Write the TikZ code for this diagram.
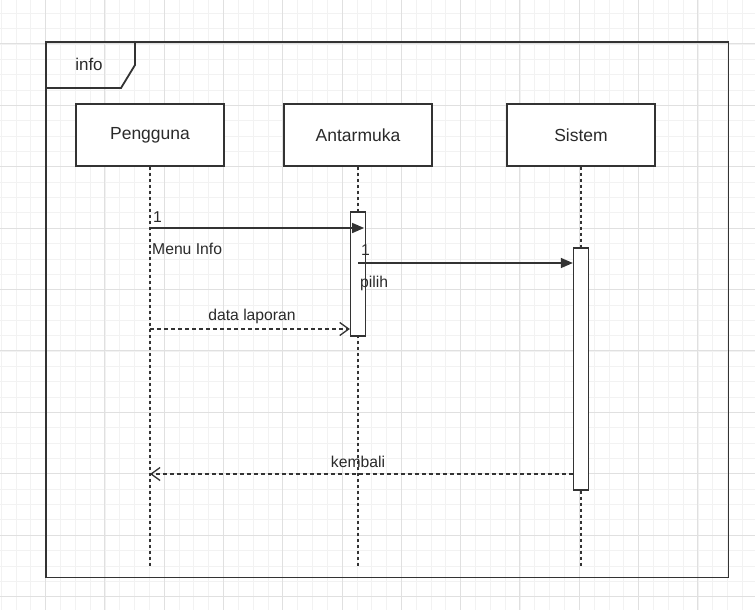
\documentclass[tikz,border=0pt]{standalone}
\usepackage{fontspec}
\setmainfont{Liberation Sans}
\usepackage{tikz}
\usetikzlibrary{arrows.meta}

\definecolor{ln}{HTML}{333333}
\definecolor{tx}{HTML}{2A2A2A}
\definecolor{gmaj}{HTML}{E0E0E0}
\definecolor{gmin}{HTML}{F2F2F2}

\begin{document}
\begin{tikzpicture}[x=1pt,y=-1pt,
  frame/.style={draw=ln,line width=1.8pt},
  actor/.style={shape=rectangle,draw=ln,fill=white,line width=1.4pt,minimum width=148pt,minimum height=62pt,inner sep=0pt,text=tx,font=\fontsize{17.5}{20}\selectfont},
  bar/.style={shape=rectangle,draw=ln,fill=white,line width=1.3pt,minimum width=15pt,inner sep=0pt},
  life/.style={draw=ln,line width=1.3pt,dash pattern=on 3pt off 3pt},
  msg/.style={draw=ln,line width=1.4pt,-{Triangle[length=12pt,width=10pt]}},
  reply/.style={draw=ln,line width=1.3pt,dash pattern=on 4pt off 3pt,-{Straight Barb[length=9pt,width=13pt]}},
  lbl/.style={inner sep=0pt,text=tx,font=\fontsize{15.7}{18}\selectfont}]
\useasboundingbox (0,0) rectangle (755,610);
\fill [white] (0,0) rectangle (755,610);
\foreach \i in {-3,...,48} \draw [gmin,line width=0.6pt] ({45.5+14.825*\i},0) -- ++(0,610);
\foreach \j in {-2,...,37} \draw [gmin,line width=0.6pt] (0,{43.9+15.35*\j}) -- ++(755,0);
\foreach \i in {0,...,12} \draw [gmaj,line width=0.9pt] ({45.5+59.3*\i},0) -- ++(0,610);
\foreach \j in {0,...,9} \draw [gmaj,line width=0.9pt] (0,{43.9+61.4*\j}) -- ++(755,0);

\draw [frame] (46,42) rectangle (728.5,577.5);
\draw [frame] (46,88) -- (121,88) -- (135,65) -- (135,42);
\path (89,64) node (infolbl) [lbl,font=\fontsize{17}{20}\selectfont] {info};

\path (150,135) node (peng) [actor] {Pengguna};
\path (358,135) node (antar) [actor] {Antarmuka};
\path (581,135) node (sis) [actor] {Sistem};
\path (150,567) coordinate (pengEnd);
\path (358,567) coordinate (antarEnd);
\path (581,567) coordinate (sisEnd);

\draw [life] (peng) -- (pengEnd);
\draw [life] (antar) -- (antarEnd);
\draw [life] (sis) -- (sisEnd);

\path (358,274) node (barA) [bar,minimum height=124pt] {};
\path (581,369) node (barS) [bar,minimum height=242pt] {};

\path (150,228) coordinate (m1a);
\path (barA |- 0,263) coordinate (m2a);
\path (150,329) coordinate (m3a);
\path (barS.west |- 0,474) coordinate (m4a);
\path (150,474) coordinate (m4b);

\draw [msg,shorten >=2pt] (m1a) -- (barA.east |- m1a);
\draw [msg] (m2a) -- (barS.west |- m2a);
\draw [reply] (m3a) -- (barA.west |- m3a);
\draw [reply] (m4a) -- (m4b);

\path (153,222) node (m1num) [lbl,anchor=base west] {1};
\path (152,254) node (m1txt) [lbl,anchor=base west] {Menu Info};
\path (361,255) node (m2num) [lbl,anchor=base west] {1};
\path (360,287) node (m2txt) [lbl,anchor=base west] {pilih};
\path (252,320) node (m3txt) [lbl,anchor=base] {data laporan};
\path (358,467) node (m4txt) [lbl,anchor=base] {kembali};
\end{tikzpicture}
\end{document}
